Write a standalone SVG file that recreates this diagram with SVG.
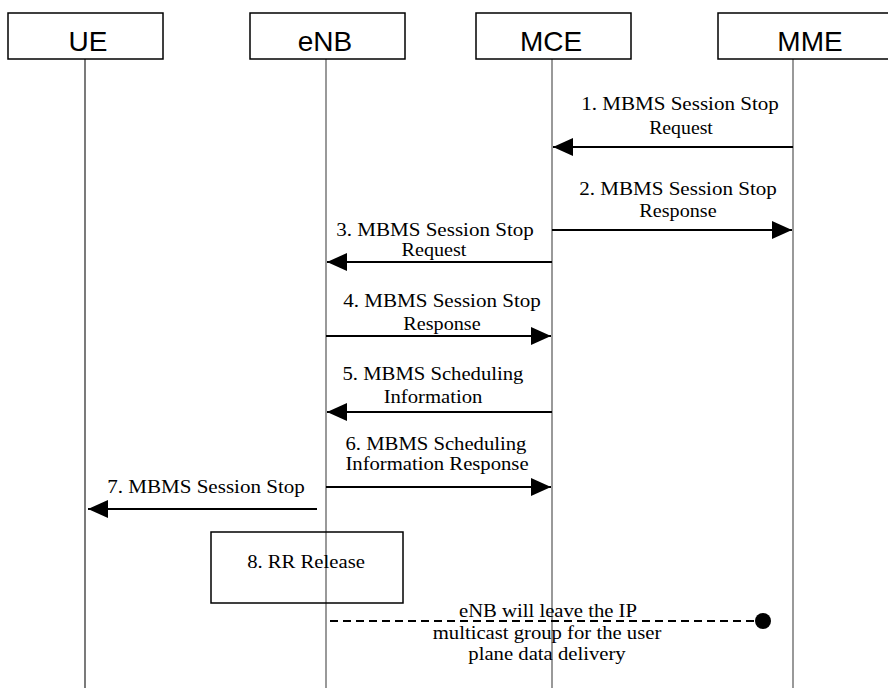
<svg xmlns="http://www.w3.org/2000/svg" width="888" height="688" viewBox="0 0 888 688">
<style>
.box{fill:#fff;stroke:#000;stroke-width:1.5}
.hdr{font-family:"Liberation Sans",Arial,sans-serif;font-size:28px;fill:#000;text-anchor:middle}
.life{stroke:#555;stroke-width:1.2;fill:none}
.msg{stroke:#000;stroke-width:2;fill:none}
.lbl{font-family:"Liberation Serif","Times New Roman",serif;font-size:18px;fill:#000;text-anchor:middle}
</style>
<defs>
<marker id="arr" viewBox="0 0 20 20" refX="20" refY="10" markerWidth="20" markerHeight="20" markerUnits="userSpaceOnUse" orient="auto">
<path d="M0,1 L20,10 L0,19 z" fill="#000"/>
</marker>
</defs>
<rect width="888" height="688" fill="#fff"/>
<g id="lifelines">
<line class="life" x1="85" y1="59" x2="85" y2="688" style="stroke:#222"/>
<line class="life" x1="326" y1="59" x2="326" y2="688"/>
<line class="life" x1="552" y1="59" x2="552" y2="688"/>
<line class="life" x1="793" y1="59" x2="793" y2="688"/>
</g>
<g id="UE"><rect class="box" x="8" y="13" width="155" height="46"/><text class="hdr" x="88" y="51">UE</text></g>
<g id="eNB"><rect class="box" x="250" y="13" width="155" height="46"/><text class="hdr" x="325" y="51">eNB</text></g>
<g id="MCE"><rect class="box" x="476" y="13" width="155" height="46"/><text class="hdr" x="551" y="51">MCE</text></g>
<g id="MME"><rect class="box" x="718" y="13" width="185" height="46"/><text class="hdr" x="810" y="51">MME</text></g>
<g id="RRRelease"><rect class="box" x="211" y="532" width="192" height="71" style="fill:none"/><text class="lbl" transform="translate(306,568) scale(1.15,1)">8. RR Release</text></g>
<g id="connectors">
<line class="msg" x1="793" y1="147" x2="553" y2="147" marker-end="url(#arr)"/>
<line class="msg" x1="552" y1="230" x2="792" y2="230" marker-end="url(#arr)"/>
<line class="msg" x1="552" y1="262" x2="327" y2="262" marker-end="url(#arr)"/>
<line class="msg" x1="326" y1="336" x2="551" y2="336" marker-end="url(#arr)"/>
<line class="msg" x1="552" y1="412" x2="327" y2="412" marker-end="url(#arr)"/>
<line class="msg" x1="326" y1="487" x2="551" y2="487" marker-end="url(#arr)"/>
<line class="msg" x1="317" y1="509" x2="88" y2="509" marker-end="url(#arr)"/>
<line class="msg" x1="330" y1="621" x2="757" y2="621" stroke-dasharray="8 5"/>
<circle cx="763" cy="621" r="8" fill="#000"/>
</g>
<g id="labels">
<text class="lbl" transform="translate(680,110) scale(1.17,1)">1. MBMS Session Stop</text>
<text class="lbl" transform="translate(681,134) scale(1.1,1)">Request</text>
<text class="lbl" transform="translate(678,195) scale(1.17,1)">2. MBMS Session Stop</text>
<text class="lbl" transform="translate(678,217) scale(1.12,1)">Response</text>
<text class="lbl" transform="translate(435,236) scale(1.17,1)">3. MBMS Session Stop</text>
<text class="lbl" transform="translate(434,256) scale(1.12,1)">Request</text>
<text class="lbl" transform="translate(442,307) scale(1.17,1)">4. MBMS Session Stop</text>
<text class="lbl" transform="translate(442,330) scale(1.12,1)">Response</text>
<text class="lbl" transform="translate(433,380) scale(1.15,1)">5. MBMS Scheduling</text>
<text class="lbl" transform="translate(433,403) scale(1.15,1)">Information</text>
<text class="lbl" transform="translate(436,450) scale(1.15,1)">6. MBMS Scheduling</text>
<text class="lbl" transform="translate(437,470) scale(1.15,1)">Information Response</text>
<text class="lbl" transform="translate(206,493) scale(1.17,1)">7. MBMS Session Stop</text>
<text class="lbl" transform="translate(548,617) scale(1.15,1)">eNB will leave the IP</text>
<text class="lbl" transform="translate(547,639) scale(1.15,1)">multicast group for the user</text>
<text class="lbl" transform="translate(547,660) scale(1.15,1)">plane data delivery</text>
</g>
</svg>
